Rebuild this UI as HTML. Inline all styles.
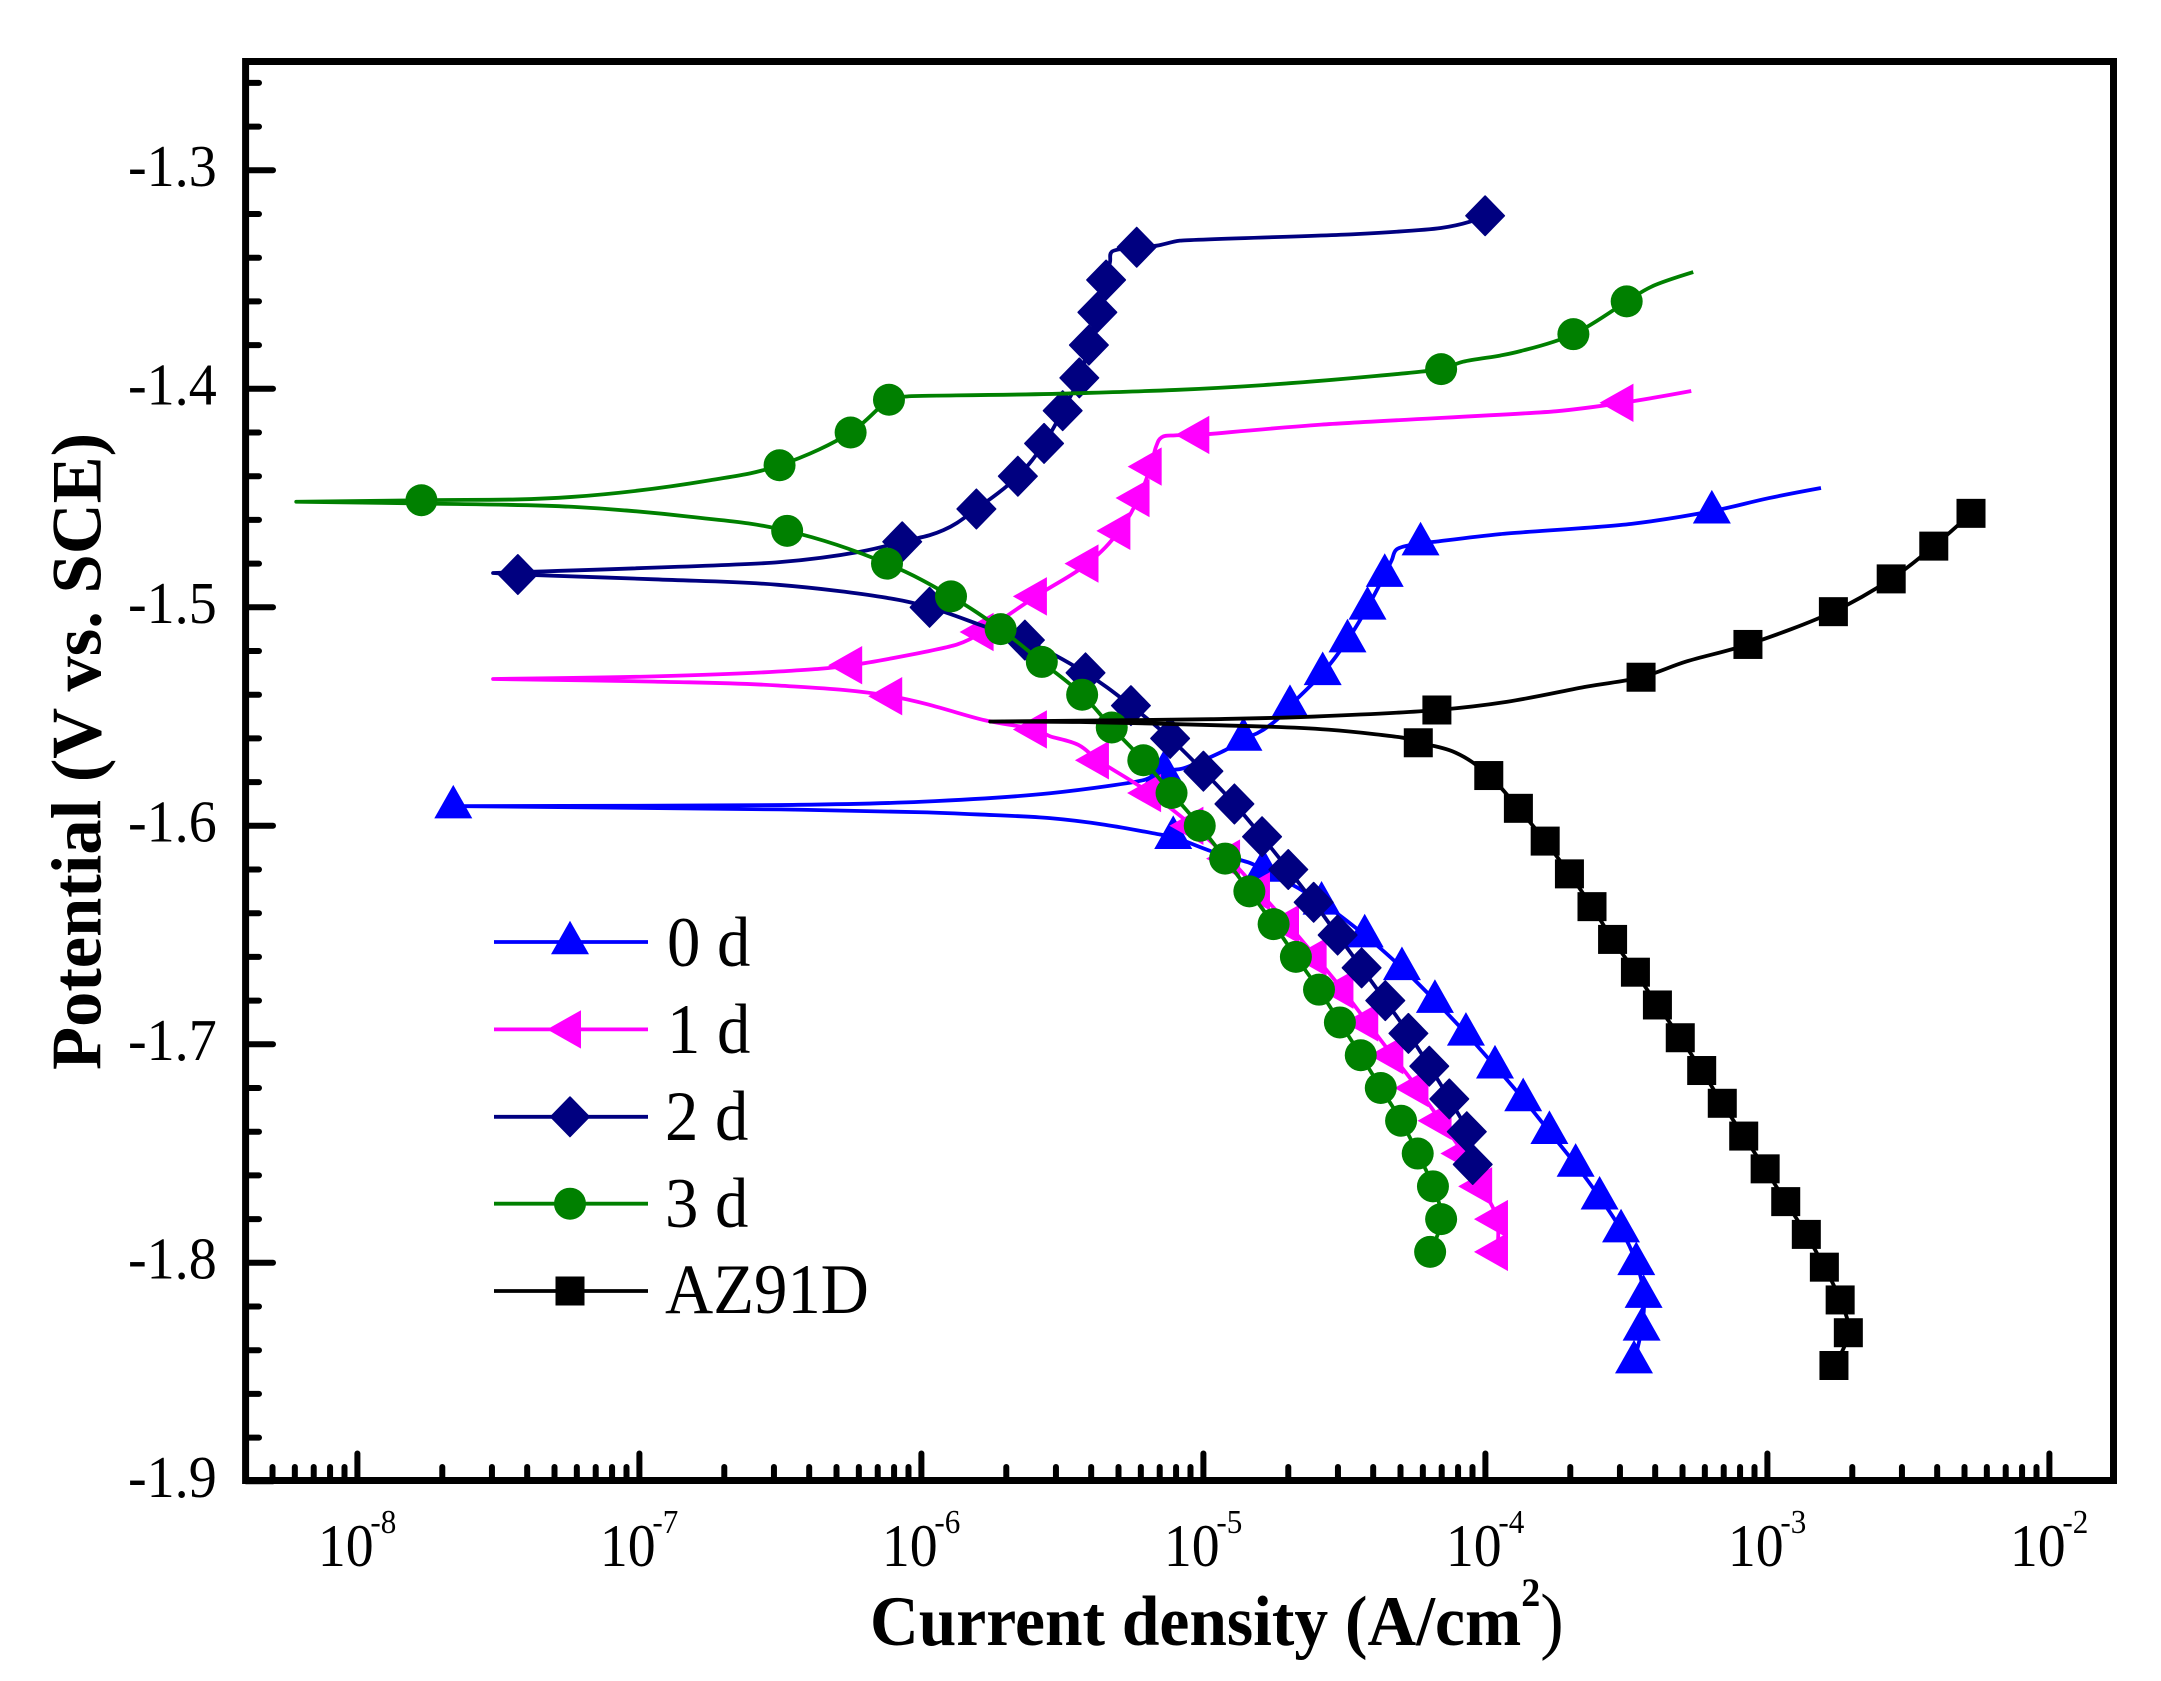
<!DOCTYPE html>
<html lang="en">
<head>
<meta charset="utf-8">
<title>Polarization curves</title>
<style>
html,body{margin:0;padding:0;background:#fff;}
svg{display:block;}
text{font-family:"Liberation Serif","Times New Roman",serif;fill:#000;}
</style>
</head>
<body>
<svg id="chart" xmlns="http://www.w3.org/2000/svg" width="2161" height="1681" viewBox="0 0 2161 1681">
  <rect x="0" y="0" width="2161" height="1681" fill="#fff"/>
  <g id="series-layer"></g>
  <g id="tick-layer"></g>
  <rect x="245.6" y="61.5" width="1867.9" height="1419" fill="none" stroke="#000" stroke-width="7"/>
  <g id="label-layer"></g>

  <text transform="translate(100.5,1070) rotate(-90)" font-size="70.5" font-weight="bold">Potential (V vs. SCE)</text>
  <text transform="translate(870,1645) scale(0.951,1)" font-size="71" font-weight="bold">Current density (A/cm<tspan font-size="40" dy="-39">2</tspan><tspan font-weight="normal" font-size="74" dy="39">)</tspan></text>

  <g id="legend">
    <text transform="translate(667,966) scale(0.94,1)" font-size="71">0 d</text>
    <text transform="translate(667,1053) scale(0.94,1)" font-size="71">1 d</text>
    <text transform="translate(665,1140) scale(0.94,1)" font-size="71">2 d</text>
    <text transform="translate(665,1227) scale(0.94,1)" font-size="71">3 d</text>
    <text transform="translate(665,1313) scale(0.94,1)" font-size="71">AZ91D</text>
  </g>
</svg>
<script>
// Axis tick data
const xDecades = [-8, -7, -6, -5, -4, -3, -2];
const xMinorMultipliers = [2, 3, 4, 5, 6, 7, 8, 9];
const yMajorTicks = [-1.3, -1.4, -1.5, -1.6, -1.7, -1.8, -1.9];
const yMinorTicks = [-1.26, -1.28, -1.32, -1.34, -1.36, -1.38, -1.42, -1.44, -1.46, -1.48, -1.52, -1.54, -1.56, -1.58, -1.62, -1.64, -1.66, -1.68, -1.72, -1.74, -1.76, -1.78, -1.82, -1.84, -1.86, -1.88];
const yTickLabels = ["-1.3", "-1.4", "-1.5", "-1.6", "-1.7", "-1.8", "-1.9"];

// Values: log10 of current density (A/cm2) and potential (V vs. SCE)
const markerLogI0d = [-3.473, -3.446, -3.439, -3.465, -3.519, -3.595, -3.680, -3.773, -3.866, -3.966, -4.069, -4.179, -4.296, -4.428, -4.581, -4.788, -5.107, -7.660, -5.140, -4.858, -4.693, -4.577, -4.489, -4.418, -4.357, -4.230, -3.197];
const markerE0d = [-1.845, -1.83, -1.815, -1.80, -1.785, -1.77, -1.755, -1.74, -1.725, -1.71, -1.695, -1.68, -1.665, -1.65, -1.635, -1.62, -1.605, -1.591, -1.575, -1.56, -1.545, -1.53, -1.515, -1.50, -1.485, -1.4706, -1.456];
const curveLogI0d = [-4.657, -4.835, -4.965, -5.154, -5.35, -5.544, -5.8, -6.0, -6.5, -6.5, -6.0, -5.544, -5.21, -5.071, -4.917, -4.81, -4.74, -4.332, -4.315, -4.179, -3.948, -3.482, -2.994, -2.81];
const curveE0d = [-1.629, -1.617, -1.612, -1.604, -1.5995, -1.5965, -1.5948, -1.5938, -1.5925, -1.5905, -1.589, -1.5851, -1.579, -1.5737, -1.565, -1.5577, -1.5515, -1.4784, -1.4735, -1.47, -1.4665, -1.4618, -1.45, -1.4454];

const markerLogI1d = [-3.959, -3.959, -4.015, -4.078, -4.159, -4.241, -4.330, -4.419, -4.507, -4.602, -4.700, -4.803, -4.909, -5.039, -5.189, -5.374, -5.594, -6.107, -6.249, -5.783, -5.594, -5.411, -5.298, -5.230, -5.187, -5.018, -3.514];
const markerE1d = [-1.795, -1.78, -1.765, -1.75, -1.735, -1.72, -1.705, -1.69, -1.675, -1.66, -1.645, -1.63, -1.615, -1.60, -1.585, -1.57, -1.5559, -1.5407, -1.5265, -1.5113, -1.495, -1.48, -1.465, -1.45, -1.4356, -1.4211, -1.4064];
const curveLogI1d = [-5.443, -5.544, -5.775, -6.508, -6.947, -7.519, -6.947, -6.508, -5.873, -5.168, -5.148, -5.10, -4.582, -3.751, -3.27];
const curveE1d = [-1.563, -1.559, -1.5517, -1.5358, -1.534, -1.5328, -1.5316, -1.5294, -1.517, -1.4265, -1.4222, -1.4213, -1.4164, -1.4103, -1.401];

const markerLogI2d = [-4.045, -4.066, -4.128, -4.199, -4.273, -4.355, -4.439, -4.524, -4.609, -4.699, -4.792, -4.890, -5.0, -5.118, -5.257, -5.418, -5.633, -5.971, -7.431, -6.068, -5.805, -5.658, -5.565, -5.499, -5.44, -5.406, -5.376, -5.345, -5.2365, -4.001];
const markerE2d = [-1.755, -1.74, -1.725, -1.71, -1.695, -1.68, -1.665, -1.65, -1.635, -1.62, -1.605, -1.59, -1.575, -1.56, -1.545, -1.53, -1.515, -1.50, -1.485, -1.47, -1.455, -1.44, -1.425, -1.41, -1.395, -1.38, -1.365, -1.3502, -1.3352, -1.3208];
const curveLogI2d = [-5.775, -6.14, -6.508, -6.947, -7.519, -6.508, -6.215, -5.922, -5.331, -5.325, -5.166, -5.083, -4.46, -4.158, -4.055];
const curveE2d = [-1.5088, -1.4953, -1.4897, -1.4872, -1.4843, -1.4794, -1.4745, -1.4647, -1.3418, -1.3373, -1.3345, -1.3322, -1.3292, -1.3264, -1.3235];

const markerLogI3d = [-4.196, -4.157, -4.186, -4.240, -4.299, -4.371, -4.442, -4.516, -4.590, -4.672, -4.751, -4.837, -4.923, -5.013, -5.113, -5.213, -5.325, -5.43, -5.573, -5.719, -5.895, -6.122, -6.476, -6.503, -6.251, -6.115, -4.157, -3.688, -3.499];
const markerE3d = [-1.795, -1.78, -1.765, -1.75, -1.735, -1.72, -1.705, -1.69, -1.675, -1.66, -1.645, -1.63, -1.615, -1.60, -1.585, -1.57, -1.555, -1.54, -1.525, -1.51, -1.495, -1.48, -1.465, -1.435, -1.42, -1.405, -1.391, -1.375, -1.36];
const extraLogIMarker3d = [-7.773];
const extraEMarker3d = [-1.451];
const curveLogI3d = [-6.825, -7.24, -7.773, -8.217, -7.24, -6.752, -6.044, -5.438, -4.787, -4.079, -3.948, -3.874, -3.41, -3.263];
const curveE3d = [-1.4585, -1.454, -1.4525, -1.4517, -1.4495, -1.4419, -1.4034, -1.402, -1.3983, -1.3876, -1.3848, -1.3827, -1.3532, -1.3466];

const markerLogIAz = [-2.764, -2.713, -2.742, -2.798, -2.862, -2.935, -3.008, -3.084, -3.160, -3.233, -3.309, -3.390, -3.468, -3.549, -3.622, -3.702, -3.788, -3.883, -3.988, -4.238, -4.172, -3.448, -3.069, -2.766, -2.561, -2.410, -2.278];
const markerEAz = [-1.847, -1.832, -1.817, -1.802, -1.787, -1.772, -1.757, -1.742, -1.727, -1.712, -1.697, -1.682, -1.667, -1.652, -1.637, -1.622, -1.607, -1.592, -1.577, -1.562, -1.547, -1.532, -1.517, -1.502, -1.487, -1.472, -1.457];
const curveLogIAz = [-4.106, -4.289, -4.558, -4.827, -5.4376, -5.756, -4.973, -4.607, -3.922, -3.641, -3.287];
const curveEAz = [-1.5665, -1.5598, -1.556, -1.5544, -1.5525, -1.5523, -1.5512, -1.55, -1.5432, -1.5363, -1.5248];

// Axis functions
function xScale(logI) { return 357.4 + (logI + 8) * 282; }
function yScale(e) { return 170.3 + (-1.3 - e) * 2185; }

const NS = 'http://www.w3.org/2000/svg';
const seriesLayer = document.getElementById('series-layer');
const tickLayer = document.getElementById('tick-layer');
const labelLayer = document.getElementById('label-layer');
const legendLayer = document.getElementById('legend');

function tickLine(x1, y1, x2, y2, w, name) {
  const l = document.createElementNS(NS, 'line');
  l.setAttribute('x1', x1);
  l.setAttribute('y1', y1);
  l.setAttribute('x2', x2);
  l.setAttribute('y2', y2);
  l.setAttribute('stroke', '#000');
  l.setAttribute('stroke-width', w);
  l.setAttribute('stroke-linecap', 'round');
  
  
  tickLayer.appendChild(l);
}

// Y ticks
yMajorTicks.forEach(function (v, i) {
  const y = yScale(v);
  tickLine(246, y, 273, y, 6, 'y-major-tick');
  const t = document.createElementNS(NS, 'text');
  t.setAttribute('transform', 'translate(128,' + (y + 15.7) + ') scale(0.95,1)');
  t.setAttribute('font-size', '59');
  
  
  t.textContent = yTickLabels[i];
  labelLayer.appendChild(t);
});
yMinorTicks.forEach(function (v) {
  tickLine(246, yScale(v), 259, yScale(v), 6, 'y-minor-tick');
});

// X ticks
xDecades.forEach(function (d) {
  const x = xScale(d);
  tickLine(x, 1481, x, 1453.5, 6, 'x-major-tick');
  const t = document.createElementNS(NS, 'text');
  t.setAttribute('transform', 'translate(' + (x - 39.5) + ',1566) scale(0.93,1)');
  t.setAttribute('font-size', '60');
  
  
  t.textContent = '10';
  labelLayer.appendChild(t);
  const s = document.createElementNS(NS, 'text');
  s.setAttribute('transform', 'translate(' + (x + 13) + ',1533) scale(0.93,1)');
  s.setAttribute('font-size', '33.5');
  
  
  s.textContent = String(d);
  labelLayer.appendChild(s);
});
[-9].concat(xDecades.slice(0, -1)).forEach(function (d) {
  xMinorMultipliers.forEach(function (m) {
    const lg = d + Math.log10(m);
    if (xScale(lg) > 250) {
      tickLine(xScale(lg), 1481, xScale(lg), 1467, 6, 'x-minor-tick');
    }
  });
});

// Marker shapes
function markerShape(kind, x, y, color) {
  let el;
  if (kind === 'circle') {
    el = document.createElementNS(NS, 'circle');
    el.setAttribute('cx', x);
    el.setAttribute('cy', y);
    el.setAttribute('r', 16);
  } else if (kind === 'square') {
    el = document.createElementNS(NS, 'rect');
    el.setAttribute('x', x - 14.5);
    el.setAttribute('y', y - 14.5);
    el.setAttribute('width', 29);
    el.setAttribute('height', 29);
  } else {
    el = document.createElementNS(NS, 'polygon');
    let pts;
    if (kind === 'up') {
      pts = [[x, y - 21.3], [x - 19, y + 12.3], [x + 19, y + 12.3]];
    } else if (kind === 'left') {
      pts = [[x - 23, y], [x + 11, y - 19.2], [x + 11, y + 19.2]];
    } else {
      pts = [[x, y - 19.7], [x + 19.2, y], [x, y + 19.7], [x - 19.2, y]];
      el.setAttribute('stroke', color);
      el.setAttribute('stroke-width', '1.6');
      el.setAttribute('stroke-linejoin', 'round');
    }
    el.setAttribute('points', pts.map(function (p) { return p[0] + ',' + p[1]; }).join(' '));
  }
  el.setAttribute('fill', color);
  return el;
}

// Smooth path through the points, keeping the sharp turn at the corrosion potential
function smoothPath(p) {
  const tangents = p.map(function (pt, i) {
    if (i === 0 || i === p.length - 1) { return [0, 0]; }
    const ax = pt[0] - p[i - 1][0], ay = pt[1] - p[i - 1][1];
    const bx = p[i + 1][0] - pt[0], by = p[i + 1][1] - pt[1];
    if (ax * bx + ay * by <= 0) { return [0, 0]; }
    const la = Math.hypot(ax, ay), lb = Math.hypot(bx, by);
    const tx = ax / (la || 1) + bx / (lb || 1), ty = ay / (la || 1) + by / (lb || 1);
    const tl = Math.hypot(tx, ty) || 1;
    const h = Math.min(la, lb) * 0.4;
    return [tx / tl * h, ty / tl * h];
  });
  let d = 'M' + p[0][0] + ' ' + p[0][1];
  for (let i = 1; i < p.length; i++) {
    d += 'C' + (p[i - 1][0] + tangents[i - 1][0]) + ' ' + (p[i - 1][1] + tangents[i - 1][1]) + ' ' +
      (p[i][0] - tangents[i][0]) + ' ' + (p[i][1] - tangents[i][1]) + ' ' + p[i][0] + ' ' + p[i][1];
  }
  return d;
}

function drawSeries(key, color, kind, mLog, mE, cLog, cE, legendY) {
  const g = document.createElementNS(NS, 'g');
  
  
  const pts = [];
  mLog.forEach(function (v, i) { pts.push([v, mE[i]]); });
  cLog.forEach(function (v, i) { pts.push([v, cE[i]]); });
  pts.sort(function (a, b) { return a[1] - b[1]; });
  const line = document.createElementNS(NS, 'path');
  line.setAttribute('d', smoothPath(pts.map(function (p) { return [xScale(p[0]), yScale(p[1])]; })));
  line.setAttribute('fill', 'none');
  line.setAttribute('stroke', color);
  line.setAttribute('stroke-width', '3.8');
  line.setAttribute('stroke-linejoin', 'round');
  
  
  g.appendChild(line);
  mLog.forEach(function (v, i) {
    const m = markerShape(kind, xScale(v), yScale(mE[i]), color);
    
    
    g.appendChild(m);
  });
  seriesLayer.appendChild(g);

  const lg = document.createElementNS(NS, 'line');
  lg.setAttribute('x1', 494);
  lg.setAttribute('x2', 648);
  lg.setAttribute('y1', legendY);
  lg.setAttribute('y2', legendY);
  lg.setAttribute('stroke', color);
  lg.setAttribute('stroke-width', '3.8');
  
  
  legendLayer.appendChild(lg);
  const lm = markerShape(kind, 570, legendY, color);
  
  
  legendLayer.appendChild(lm);
}

drawSeries('0d', '#0000ff', 'up', markerLogI0d, markerE0d, curveLogI0d, curveE0d, 942);
drawSeries('1d', '#ff00ff', 'left', markerLogI1d, markerE1d, curveLogI1d, curveE1d, 1029.4);
drawSeries('2d', '#000080', 'diamond', markerLogI2d, markerE2d, curveLogI2d, curveE2d, 1116.8);
drawSeries('3d', '#008000', 'circle', markerLogI3d.concat(extraLogIMarker3d), markerE3d.concat(extraEMarker3d), curveLogI3d, curveE3d, 1203.7);
drawSeries('az91d', '#000000', 'square', markerLogIAz, markerEAz, curveLogIAz, curveEAz, 1291);
</script>
</body>
</html>
